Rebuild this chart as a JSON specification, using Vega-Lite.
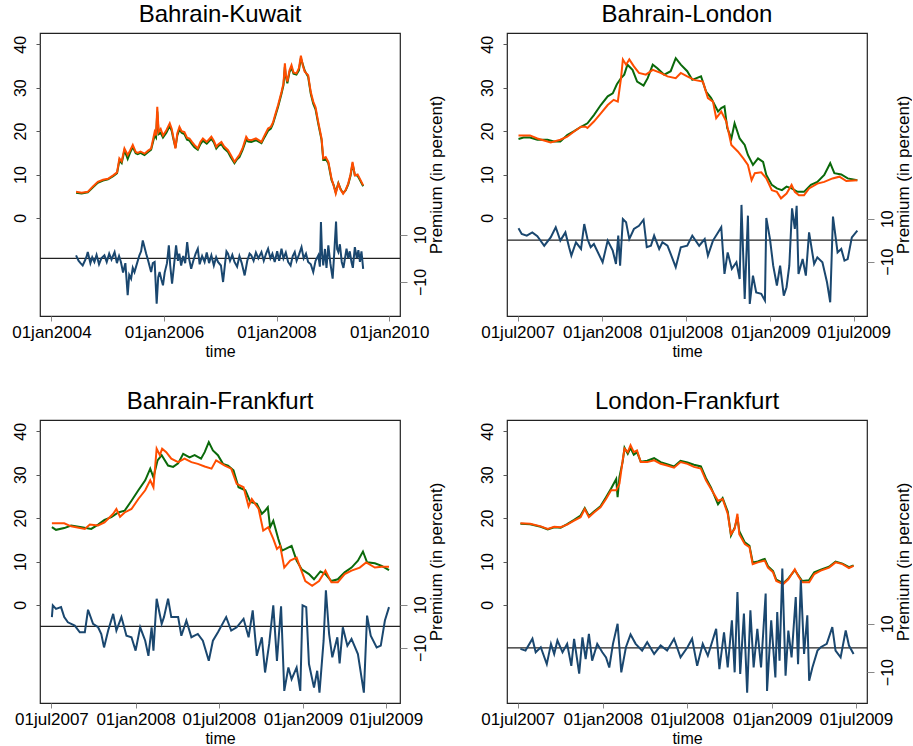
{
  "$schema": "https://vega.github.io/schema/vega-lite/v6.json",
  "background": "white",
  "padding": {"left": 11, "top": 2, "right": 0, "bottom": 0},
  "config": {
    "font": "Liberation Sans",
    "view": {"stroke": "#222", "strokeWidth": 1.2},
    "axis": {"grid": false, "domain": false, "labelFont": "Liberation Sans", "titleFont": "Liberation Sans", "labelFontSize": 16, "titleFontSize": 17, "titleFontWeight": "normal", "labelColor": "#000", "titleColor": "#000", "tickColor": "#555"},
    "axisX": {"tickSize": 5, "labelPadding": 3, "titlePadding": 3, "labelFontSize": 17, "titleFontSize": 16, "labelFlush": false, "labelOverlap": false, "labelBound": false, "tickColor": "#888"},
    "axisLeft": {"tickSize": 4, "labelPadding": 8},
    "axisRight": {"tickSize": 7, "labelPadding": 5, "titlePadding": 0, "tickColor": "#888", "labelBaseline": "top", "labelAlign": "center", "titleBaseline": "top"},
    "title": {"fontSize": 24, "fontWeight": "normal", "font": "Liberation Sans", "frame": "group", "offset": 6, "color": "#000", "anchor": "middle"}
  },
  "datasets": {
    "bk_g": [
      {"d":"2004-06-09","v":5.8},{"d":"2004-07-15","v":5.6},{"d":"2004-08-24","v":5.9},{"d":"2004-09-25","v":7.0},{"d":"2004-10-28","v":8.1},{"d":"2004-12-01","v":8.6},{"d":"2005-01-02","v":8.9},{"d":"2005-02-05","v":9.6},{"d":"2005-03-02","v":10.3},{"d":"2005-03-17","v":13.2},{"d":"2005-04-01","v":12.6},{"d":"2005-04-19","v":15.6},{"d":"2005-05-10","v":13.6},{"d":"2005-05-25","v":15.0},{"d":"2005-06-12","v":16.3},{"d":"2005-07-01","v":14.9},{"d":"2005-07-14","v":14.7},{"d":"2005-08-01","v":15.0},{"d":"2005-08-27","v":14.5},{"d":"2005-09-20","v":15.2},{"d":"2005-10-09","v":15.7},{"d":"2005-11-01","v":19.0},{"d":"2005-11-10","v":18.5},{"d":"2005-11-18","v":24.5},{"d":"2005-11-27","v":19.3},{"d":"2005-12-10","v":19.6},{"d":"2005-12-25","v":18.5},{"d":"2006-01-16","v":19.6},{"d":"2006-02-07","v":21.2},{"d":"2006-02-20","v":20.0},{"d":"2006-02-28","v":18.6},{"d":"2006-03-16","v":16.2},{"d":"2006-03-28","v":19.0},{"d":"2006-04-11","v":20.4},{"d":"2006-04-25","v":19.6},{"d":"2006-05-13","v":19.3},{"d":"2006-05-30","v":18.0},{"d":"2006-06-15","v":17.8},{"d":"2006-07-01","v":17.0},{"d":"2006-07-17","v":16.3},{"d":"2006-08-08","v":15.7},{"d":"2006-08-25","v":17.0},{"d":"2006-09-10","v":17.8},{"d":"2006-10-05","v":17.1},{"d":"2006-11-04","v":18.2},{"d":"2006-11-20","v":17.4},{"d":"2006-12-06","v":16.0},{"d":"2006-12-20","v":16.6},{"d":"2007-01-08","v":17.0},{"d":"2007-01-25","v":16.0},{"d":"2007-02-20","v":15.2},{"d":"2007-03-10","v":14.0},{"d":"2007-04-03","v":12.6},{"d":"2007-04-20","v":13.5},{"d":"2007-05-05","v":14.0},{"d":"2007-05-25","v":15.6},{"d":"2007-06-18","v":18.0},{"d":"2007-07-01","v":17.6},{"d":"2007-07-21","v":17.5},{"d":"2007-08-20","v":17.9},{"d":"2007-09-25","v":17.2},{"d":"2007-10-15","v":18.6},{"d":"2007-11-07","v":20.1},{"d":"2007-11-25","v":20.6},{"d":"2007-12-09","v":21.7},{"d":"2007-12-25","v":23.6},{"d":"2008-01-11","v":25.6},{"d":"2008-02-02","v":28.6},{"d":"2008-02-15","v":30.6},{"d":"2008-02-24","v":34.8},{"d":"2008-03-01","v":32.6},{"d":"2008-03-11","v":31.0},{"d":"2008-03-25","v":33.6},{"d":"2008-04-07","v":34.6},{"d":"2008-04-20","v":33.2},{"d":"2008-05-09","v":33.0},{"d":"2008-05-25","v":34.0},{"d":"2008-06-07","v":36.8},{"d":"2008-06-20","v":35.3},{"d":"2008-07-02","v":33.9},{"d":"2008-07-24","v":32.5},{"d":"2008-08-10","v":28.6},{"d":"2008-08-26","v":26.3},{"d":"2008-09-10","v":25.0},{"d":"2008-09-28","v":21.6},{"d":"2008-10-19","v":18.0},{"d":"2008-10-30","v":13.4},{"d":"2008-11-15","v":13.6},{"d":"2008-12-02","v":12.6},{"d":"2008-12-23","v":8.7},{"d":"2009-01-05","v":7.6},{"d":"2009-01-19","v":5.9},{"d":"2009-02-05","v":8.0},{"d":"2009-02-20","v":6.6},{"d":"2009-03-08","v":5.7},{"d":"2009-03-25","v":6.4},{"d":"2009-04-10","v":7.7},{"d":"2009-04-25","v":9.7},{"d":"2009-05-08","v":12.5},{"d":"2009-05-23","v":9.9},{"d":"2009-06-10","v":9.7},{"d":"2009-06-25","v":8.7},{"d":"2009-07-16","v":7.3}
    ],
    "bk_o": [
      {"d":"2004-06-09","v":6.0},{"d":"2004-07-15","v":5.8},{"d":"2004-08-24","v":6.0},{"d":"2004-09-25","v":7.2},{"d":"2004-10-28","v":8.3},{"d":"2004-12-01","v":8.8},{"d":"2005-01-02","v":9.0},{"d":"2005-02-05","v":9.8},{"d":"2005-03-02","v":10.5},{"d":"2005-03-17","v":13.7},{"d":"2005-04-01","v":13.0},{"d":"2005-04-19","v":16.0},{"d":"2005-05-10","v":14.5},{"d":"2005-05-25","v":15.5},{"d":"2005-06-12","v":16.8},{"d":"2005-07-01","v":15.2},{"d":"2005-07-14","v":15.0},{"d":"2005-08-01","v":15.3},{"d":"2005-08-27","v":14.8},{"d":"2005-09-20","v":15.5},{"d":"2005-10-09","v":16.0},{"d":"2005-11-01","v":19.8},{"d":"2005-11-10","v":19.0},{"d":"2005-11-18","v":25.6},{"d":"2005-11-27","v":19.8},{"d":"2005-12-10","v":20.5},{"d":"2005-12-25","v":19.0},{"d":"2006-01-16","v":20.2},{"d":"2006-02-07","v":21.8},{"d":"2006-02-20","v":20.5},{"d":"2006-02-28","v":19.0},{"d":"2006-03-16","v":16.0},{"d":"2006-03-28","v":19.5},{"d":"2006-04-11","v":21.0},{"d":"2006-04-25","v":20.0},{"d":"2006-05-13","v":19.8},{"d":"2006-05-30","v":18.5},{"d":"2006-06-15","v":18.3},{"d":"2006-07-01","v":17.5},{"d":"2006-07-17","v":16.8},{"d":"2006-08-08","v":16.0},{"d":"2006-08-25","v":17.5},{"d":"2006-09-10","v":18.3},{"d":"2006-10-05","v":17.5},{"d":"2006-11-04","v":18.7},{"d":"2006-11-20","v":17.8},{"d":"2006-12-06","v":16.4},{"d":"2006-12-20","v":17.0},{"d":"2007-01-08","v":17.5},{"d":"2007-01-25","v":16.5},{"d":"2007-02-20","v":15.6},{"d":"2007-03-10","v":14.5},{"d":"2007-04-03","v":12.9},{"d":"2007-04-20","v":13.8},{"d":"2007-05-05","v":14.5},{"d":"2007-05-25","v":16.0},{"d":"2007-06-18","v":18.7},{"d":"2007-07-01","v":18.0},{"d":"2007-07-21","v":17.9},{"d":"2007-08-20","v":18.3},{"d":"2007-09-25","v":17.5},{"d":"2007-10-15","v":19.0},{"d":"2007-11-07","v":20.6},{"d":"2007-11-25","v":21.0},{"d":"2007-12-09","v":22.0},{"d":"2007-12-25","v":24.0},{"d":"2008-01-11","v":26.0},{"d":"2008-02-02","v":29.0},{"d":"2008-02-15","v":31.0},{"d":"2008-02-24","v":35.6},{"d":"2008-03-01","v":33.0},{"d":"2008-03-11","v":31.4},{"d":"2008-03-25","v":34.0},{"d":"2008-04-07","v":35.2},{"d":"2008-04-20","v":33.5},{"d":"2008-05-09","v":33.3},{"d":"2008-05-25","v":34.5},{"d":"2008-06-07","v":37.4},{"d":"2008-06-20","v":35.0},{"d":"2008-07-02","v":33.7},{"d":"2008-07-24","v":32.9},{"d":"2008-08-10","v":29.0},{"d":"2008-08-26","v":26.8},{"d":"2008-09-10","v":25.5},{"d":"2008-09-28","v":22.0},{"d":"2008-10-19","v":18.3},{"d":"2008-10-30","v":13.7},{"d":"2008-11-15","v":14.0},{"d":"2008-12-02","v":12.9},{"d":"2008-12-23","v":9.0},{"d":"2009-01-05","v":7.5},{"d":"2009-01-19","v":5.6},{"d":"2009-02-05","v":7.9},{"d":"2009-02-20","v":6.5},{"d":"2009-03-08","v":5.6},{"d":"2009-03-25","v":6.5},{"d":"2009-04-10","v":7.9},{"d":"2009-04-25","v":10.0},{"d":"2009-05-08","v":12.9},{"d":"2009-05-23","v":9.8},{"d":"2009-06-10","v":10.0},{"d":"2009-06-25","v":9.0},{"d":"2009-07-16","v":7.5}
    ],
    "bk_p": [
      {"d":"2004-06-09","v":1.3},{"d":"2004-06-25","v":-1.0},{"d":"2004-07-08","v":-2.0},{"d":"2004-07-22","v":-3.0},{"d":"2004-08-05","v":-1.0},{"d":"2004-08-15","v":0.5},{"d":"2004-08-24","v":2.7},{"d":"2004-09-10","v":-2.0},{"d":"2004-09-22","v":0.5},{"d":"2004-10-06","v":-1.5},{"d":"2004-10-20","v":1.5},{"d":"2004-11-05","v":-2.5},{"d":"2004-11-20","v":0.0},{"d":"2004-12-10","v":1.3},{"d":"2004-12-25","v":-1.5},{"d":"2005-01-10","v":2.0},{"d":"2005-01-25","v":-0.5},{"d":"2005-02-14","v":2.7},{"d":"2005-03-01","v":-2.0},{"d":"2005-03-15","v":1.0},{"d":"2005-03-27","v":-1.5},{"d":"2005-04-10","v":-6.0},{"d":"2005-04-25","v":-2.0},{"d":"2005-05-10","v":-15.6},{"d":"2005-05-20","v":-7.0},{"d":"2005-06-01","v":-8.6},{"d":"2005-06-12","v":-4.0},{"d":"2005-06-23","v":-5.8},{"d":"2005-07-10","v":-2.0},{"d":"2005-07-25","v":1.3},{"d":"2005-08-05","v":3.0},{"d":"2005-08-16","v":7.6},{"d":"2005-09-07","v":2.0},{"d":"2005-09-20","v":-1.0},{"d":"2005-10-09","v":-5.8},{"d":"2005-10-20","v":-2.0},{"d":"2005-11-01","v":-1.5},{"d":"2005-11-14","v":-19.2},{"d":"2005-11-24","v":-8.0},{"d":"2005-12-03","v":-5.8},{"d":"2005-12-15","v":-9.0},{"d":"2005-12-25","v":-11.4},{"d":"2006-01-05","v":-6.0},{"d":"2006-01-20","v":-2.0},{"d":"2006-02-01","v":5.5},{"d":"2006-02-10","v":-3.0},{"d":"2006-02-22","v":-10.7},{"d":"2006-03-05","v":-4.0},{"d":"2006-03-20","v":5.5},{"d":"2006-04-01","v":-1.0},{"d":"2006-04-10","v":2.0},{"d":"2006-04-22","v":-3.0},{"d":"2006-05-05","v":1.0},{"d":"2006-05-18","v":-2.0},{"d":"2006-05-31","v":6.9},{"d":"2006-06-12","v":0.0},{"d":"2006-06-26","v":-4.4},{"d":"2006-07-10","v":-1.0},{"d":"2006-07-25","v":2.0},{"d":"2006-08-08","v":4.1},{"d":"2006-08-20","v":-2.5},{"d":"2006-09-05","v":1.0},{"d":"2006-09-21","v":-1.5},{"d":"2006-10-05","v":2.5},{"d":"2006-10-20","v":-2.0},{"d":"2006-11-04","v":1.3},{"d":"2006-11-20","v":-3.0},{"d":"2006-12-05","v":0.5},{"d":"2006-12-17","v":-1.5},{"d":"2007-01-05","v":-3.0},{"d":"2007-01-19","v":-10.0},{"d":"2007-02-01","v":-2.0},{"d":"2007-02-10","v":3.0},{"d":"2007-02-20","v":2.0},{"d":"2007-03-05","v":-1.0},{"d":"2007-03-20","v":1.5},{"d":"2007-04-03","v":-1.5},{"d":"2007-04-20","v":-3.5},{"d":"2007-05-05","v":1.0},{"d":"2007-05-20","v":-2.0},{"d":"2007-06-08","v":-7.2},{"d":"2007-06-25","v":-1.0},{"d":"2007-07-10","v":2.0},{"d":"2007-07-21","v":1.3},{"d":"2007-08-05","v":-1.0},{"d":"2007-08-20","v":2.5},{"d":"2007-09-05","v":0.0},{"d":"2007-09-25","v":2.7},{"d":"2007-10-10","v":-1.0},{"d":"2007-10-25","v":2.0},{"d":"2007-11-07","v":4.1},{"d":"2007-11-22","v":0.0},{"d":"2007-12-05","v":2.0},{"d":"2007-12-20","v":-1.5},{"d":"2008-01-05","v":3.0},{"d":"2008-01-18","v":-1.0},{"d":"2008-02-02","v":4.1},{"d":"2008-02-15","v":0.0},{"d":"2008-03-01","v":2.5},{"d":"2008-03-16","v":-1.5},{"d":"2008-04-01","v":-3.0},{"d":"2008-04-15","v":1.0},{"d":"2008-04-28","v":2.7},{"d":"2008-05-10","v":-1.0},{"d":"2008-05-25","v":1.5},{"d":"2008-06-11","v":4.8},{"d":"2008-06-25","v":0.0},{"d":"2008-07-10","v":2.0},{"d":"2008-07-24","v":-1.5},{"d":"2008-08-10","v":-2.5},{"d":"2008-08-26","v":-5.8},{"d":"2008-09-10","v":-1.0},{"d":"2008-09-28","v":1.3},{"d":"2008-10-08","v":-3.5},{"d":"2008-10-15","v":15.4},{"d":"2008-10-22","v":2.0},{"d":"2008-10-30","v":-3.0},{"d":"2008-11-10","v":4.0},{"d":"2008-11-20","v":-4.0},{"d":"2008-12-02","v":5.5},{"d":"2008-12-15","v":-2.0},{"d":"2008-12-30","v":-8.6},{"d":"2009-01-10","v":3.0},{"d":"2009-01-21","v":15.6},{"d":"2009-01-28","v":4.0},{"d":"2009-02-05","v":2.7},{"d":"2009-02-15","v":6.0},{"d":"2009-02-27","v":-1.5},{"d":"2009-03-10","v":-4.0},{"d":"2009-03-30","v":4.1},{"d":"2009-04-10","v":0.0},{"d":"2009-04-20","v":3.0},{"d":"2009-05-01","v":-1.5},{"d":"2009-05-10","v":-4.0},{"d":"2009-05-23","v":4.8},{"d":"2009-06-05","v":0.0},{"d":"2009-06-15","v":3.5},{"d":"2009-06-25","v":-1.5},{"d":"2009-07-05","v":3.0},{"d":"2009-07-16","v":-4.4}
    ],
    "bl_g": [
      {"d":"2007-07-03","v":18.2},{"d":"2007-07-14","v":18.5},{"d":"2007-07-28","v":18.5},{"d":"2007-08-13","v":18.0},{"d":"2007-09-04","v":18.0},{"d":"2007-09-18","v":17.6},{"d":"2007-10-02","v":17.6},{"d":"2007-10-17","v":19.1},{"d":"2007-11-01","v":20.0},{"d":"2007-11-16","v":21.0},{"d":"2007-11-30","v":21.8},{"d":"2007-12-14","v":23.7},{"d":"2007-12-29","v":26.0},{"d":"2008-01-13","v":28.0},{"d":"2008-01-24","v":28.7},{"d":"2008-02-02","v":30.8},{"d":"2008-02-11","v":32.2},{"d":"2008-02-18","v":33.0},{"d":"2008-02-25","v":35.3},{"d":"2008-03-07","v":34.1},{"d":"2008-03-17","v":31.4},{"d":"2008-03-31","v":30.5},{"d":"2008-04-09","v":32.2},{"d":"2008-04-20","v":35.3},{"d":"2008-04-30","v":34.5},{"d":"2008-05-15","v":33.0},{"d":"2008-05-29","v":33.8},{"d":"2008-06-09","v":36.8},{"d":"2008-06-20","v":35.3},{"d":"2008-07-04","v":33.8},{"d":"2008-07-15","v":31.8},{"d":"2008-08-03","v":32.6},{"d":"2008-08-14","v":29.1},{"d":"2008-08-25","v":27.6},{"d":"2008-09-09","v":24.5},{"d":"2008-09-16","v":25.3},{"d":"2008-09-23","v":25.7},{"d":"2008-09-29","v":20.7},{"d":"2008-10-08","v":18.3},{"d":"2008-10-15","v":21.8},{"d":"2008-10-26","v":18.3},{"d":"2008-11-06","v":16.8},{"d":"2008-11-13","v":14.5},{"d":"2008-11-24","v":12.2},{"d":"2008-12-05","v":13.7},{"d":"2008-12-16","v":12.9},{"d":"2008-12-23","v":9.9},{"d":"2009-01-04","v":7.6},{"d":"2009-01-15","v":6.8},{"d":"2009-01-26","v":6.4},{"d":"2009-02-05","v":7.2},{"d":"2009-02-16","v":6.8},{"d":"2009-03-01","v":6.0},{"d":"2009-03-15","v":6.0},{"d":"2009-03-30","v":7.6},{"d":"2009-04-13","v":8.3},{"d":"2009-04-28","v":9.9},{"d":"2009-05-11","v":12.6},{"d":"2009-05-20","v":10.3},{"d":"2009-06-04","v":10.0},{"d":"2009-06-18","v":9.1},{"d":"2009-07-09","v":8.7}
    ],
    "bl_o": [
      {"d":"2007-07-03","v":19.0},{"d":"2007-07-28","v":19.0},{"d":"2007-08-13","v":18.3},{"d":"2007-09-11","v":17.4},{"d":"2007-10-02","v":18.0},{"d":"2007-10-17","v":18.7},{"d":"2007-11-01","v":19.9},{"d":"2007-11-16","v":21.0},{"d":"2007-11-26","v":21.0},{"d":"2007-11-30","v":20.7},{"d":"2007-12-14","v":22.2},{"d":"2007-12-29","v":24.1},{"d":"2008-01-13","v":26.0},{"d":"2008-01-26","v":27.2},{"d":"2008-02-04","v":26.8},{"d":"2008-02-11","v":32.2},{"d":"2008-02-15","v":36.5},{"d":"2008-02-22","v":35.3},{"d":"2008-02-29","v":36.5},{"d":"2008-03-10","v":34.9},{"d":"2008-03-21","v":33.4},{"d":"2008-04-05","v":33.0},{"d":"2008-04-20","v":34.1},{"d":"2008-05-07","v":33.4},{"d":"2008-05-22","v":32.6},{"d":"2008-06-09","v":32.2},{"d":"2008-06-20","v":33.4},{"d":"2008-07-04","v":32.6},{"d":"2008-07-19","v":31.8},{"d":"2008-08-07","v":31.4},{"d":"2008-08-18","v":27.6},{"d":"2008-08-29","v":26.8},{"d":"2008-09-05","v":23.0},{"d":"2008-09-16","v":24.5},{"d":"2008-09-27","v":22.2},{"d":"2008-10-08","v":16.8},{"d":"2008-10-22","v":15.3},{"d":"2008-11-03","v":13.7},{"d":"2008-11-13","v":12.2},{"d":"2008-11-21","v":8.7},{"d":"2008-11-28","v":10.3},{"d":"2008-12-12","v":10.5},{"d":"2008-12-23","v":9.1},{"d":"2009-01-04","v":6.4},{"d":"2009-01-15","v":6.0},{"d":"2009-01-24","v":4.5},{"d":"2009-02-05","v":5.6},{"d":"2009-02-16","v":7.6},{"d":"2009-02-23","v":6.0},{"d":"2009-03-04","v":5.2},{"d":"2009-03-15","v":5.2},{"d":"2009-03-26","v":6.8},{"d":"2009-04-13","v":7.9},{"d":"2009-04-28","v":8.3},{"d":"2009-05-16","v":9.1},{"d":"2009-05-31","v":9.5},{"d":"2009-06-15","v":8.5},{"d":"2009-07-09","v":8.7}
    ],
    "bl_p": [
      {"d":"2007-07-03","v":5.5},{"d":"2007-07-10","v":2.9},{"d":"2007-07-21","v":2.1},{"d":"2007-08-02","v":3.6},{"d":"2007-08-13","v":1.8},{"d":"2007-08-28","v":-2.6},{"d":"2007-09-11","v":1.3},{"d":"2007-09-22","v":6.0},{"d":"2007-10-02","v":-0.2},{"d":"2007-10-13","v":3.6},{"d":"2007-10-21","v":-3.3},{"d":"2007-10-26","v":-7.2},{"d":"2007-11-05","v":-1.0},{"d":"2007-11-16","v":-4.1},{"d":"2007-11-23","v":7.5},{"d":"2007-11-30","v":0.5},{"d":"2007-12-07","v":-3.3},{"d":"2007-12-14","v":-1.8},{"d":"2008-01-02","v":-10.3},{"d":"2008-01-13","v":-0.2},{"d":"2008-01-24","v":-4.9},{"d":"2008-01-31","v":-11.1},{"d":"2008-02-05","v":2.1},{"d":"2008-02-09","v":-11.9},{"d":"2008-02-15","v":9.8},{"d":"2008-02-22","v":8.3},{"d":"2008-02-29","v":0.5},{"d":"2008-03-10","v":5.2},{"d":"2008-03-21","v":6.7},{"d":"2008-03-31","v":9.5},{"d":"2008-04-07","v":-3.3},{"d":"2008-04-16","v":-2.6},{"d":"2008-04-23","v":2.1},{"d":"2008-05-04","v":-4.1},{"d":"2008-05-11","v":-1.0},{"d":"2008-05-22","v":-2.6},{"d":"2008-05-29","v":-6.4},{"d":"2008-06-09","v":-12.6},{"d":"2008-06-20","v":-3.3},{"d":"2008-07-04","v":-2.6},{"d":"2008-07-15","v":2.1},{"d":"2008-07-30","v":-2.6},{"d":"2008-08-11","v":0.5},{"d":"2008-08-18","v":-7.2},{"d":"2008-08-29","v":-0.2},{"d":"2008-09-09","v":3.6},{"d":"2008-09-16","v":6.0},{"d":"2008-09-23","v":-15.7},{"d":"2008-09-30","v":-5.7},{"d":"2008-10-09","v":-13.4},{"d":"2008-10-19","v":-10.3},{"d":"2008-10-26","v":-18.1},{"d":"2008-10-30","v":16.4},{"d":"2008-11-06","v":-27.4},{"d":"2008-11-13","v":11.4},{"d":"2008-11-17","v":-29.7},{"d":"2008-11-24","v":-16.5},{"d":"2008-12-01","v":-24.3},{"d":"2008-12-12","v":-25.0},{"d":"2008-12-20","v":-28.1},{"d":"2008-12-23","v":10.3},{"d":"2008-12-31","v":0.5},{"d":"2009-01-07","v":-11.9},{"d":"2009-01-15","v":-21.1},{"d":"2009-01-22","v":-11.9},{"d":"2009-01-30","v":-25.8},{"d":"2009-02-05","v":-21.9},{"d":"2009-02-11","v":-11.9},{"d":"2009-02-17","v":14.8},{"d":"2009-02-23","v":5.2},{"d":"2009-02-27","v":16.0},{"d":"2009-03-03","v":-15.7},{"d":"2009-03-12","v":-8.8},{"d":"2009-03-19","v":-16.5},{"d":"2009-03-26","v":3.6},{"d":"2009-04-06","v":-11.1},{"d":"2009-04-13","v":-8.0},{"d":"2009-04-24","v":-10.3},{"d":"2009-05-04","v":-19.6},{"d":"2009-05-11","v":-28.9},{"d":"2009-05-17","v":11.0},{"d":"2009-05-27","v":-5.7},{"d":"2009-06-04","v":-4.1},{"d":"2009-06-11","v":-9.5},{"d":"2009-06-18","v":-8.8},{"d":"2009-06-27","v":1.3},{"d":"2009-07-09","v":4.4}
    ],
    "bf_g": [
      {"d":"2007-07-02","v":17.9},{"d":"2007-07-11","v":17.3},{"d":"2007-07-29","v":17.7},{"d":"2007-08-13","v":18.3},{"d":"2007-09-05","v":17.9},{"d":"2007-09-26","v":17.5},{"d":"2007-10-11","v":18.5},{"d":"2007-10-25","v":19.6},{"d":"2007-11-09","v":20.2},{"d":"2007-11-24","v":21.3},{"d":"2007-12-08","v":21.7},{"d":"2007-12-23","v":24.0},{"d":"2008-01-07","v":26.4},{"d":"2008-01-22","v":28.7},{"d":"2008-02-02","v":31.4},{"d":"2008-02-09","v":29.4},{"d":"2008-02-18","v":33.3},{"d":"2008-02-27","v":34.5},{"d":"2008-03-12","v":32.1},{"d":"2008-03-23","v":31.8},{"d":"2008-04-03","v":32.6},{"d":"2008-04-14","v":34.8},{"d":"2008-04-28","v":34.0},{"d":"2008-05-09","v":34.5},{"d":"2008-05-23","v":33.7},{"d":"2008-05-31","v":35.2},{"d":"2008-06-09","v":37.5},{"d":"2008-06-18","v":35.6},{"d":"2008-06-29","v":34.5},{"d":"2008-07-10","v":32.5},{"d":"2008-07-21","v":32.1},{"d":"2008-08-02","v":31.0},{"d":"2008-08-13","v":27.1},{"d":"2008-08-28","v":26.4},{"d":"2008-09-08","v":23.7},{"d":"2008-09-22","v":23.3},{"d":"2008-10-03","v":21.0},{"d":"2008-10-10","v":21.7},{"d":"2008-10-16","v":22.5},{"d":"2008-10-21","v":17.9},{"d":"2008-10-28","v":19.4},{"d":"2008-11-08","v":15.2},{"d":"2008-11-16","v":12.5},{"d":"2008-11-24","v":12.9},{"d":"2008-12-07","v":13.6},{"d":"2008-12-18","v":10.2},{"d":"2008-12-29","v":8.2},{"d":"2009-01-14","v":7.1},{"d":"2009-01-25","v":5.9},{"d":"2009-02-08","v":7.7},{"d":"2009-02-19","v":7.1},{"d":"2009-03-04","v":5.5},{"d":"2009-03-18","v":5.9},{"d":"2009-04-02","v":7.5},{"d":"2009-04-17","v":8.6},{"d":"2009-05-01","v":10.2},{"d":"2009-05-12","v":12.3},{"d":"2009-05-21","v":9.8},{"d":"2009-06-07","v":9.6},{"d":"2009-06-22","v":9.0},{"d":"2009-07-08","v":8.0}
    ],
    "bf_o": [
      {"d":"2007-07-02","v":18.8},{"d":"2007-07-29","v":18.8},{"d":"2007-08-13","v":18.1},{"d":"2007-09-12","v":17.5},{"d":"2007-09-23","v":18.5},{"d":"2007-10-11","v":18.3},{"d":"2007-10-25","v":19.0},{"d":"2007-11-13","v":21.0},{"d":"2007-11-20","v":22.1},{"d":"2007-11-28","v":20.3},{"d":"2007-12-08","v":21.3},{"d":"2007-12-23","v":22.1},{"d":"2008-01-07","v":24.4},{"d":"2008-01-22","v":26.4},{"d":"2008-02-02","v":28.7},{"d":"2008-02-09","v":27.1},{"d":"2008-02-16","v":36.0},{"d":"2008-02-23","v":34.5},{"d":"2008-02-28","v":36.0},{"d":"2008-03-08","v":35.2},{"d":"2008-03-19","v":33.7},{"d":"2008-04-03","v":32.9},{"d":"2008-04-17","v":33.7},{"d":"2008-05-02","v":32.9},{"d":"2008-05-16","v":32.5},{"d":"2008-05-31","v":31.9},{"d":"2008-06-15","v":31.4},{"d":"2008-06-25","v":33.3},{"d":"2008-07-14","v":32.1},{"d":"2008-07-28","v":31.4},{"d":"2008-08-09","v":27.9},{"d":"2008-08-24","v":27.1},{"d":"2008-09-04","v":22.7},{"d":"2008-09-11","v":24.4},{"d":"2008-09-26","v":22.1},{"d":"2008-10-06","v":17.1},{"d":"2008-10-17","v":17.9},{"d":"2008-10-28","v":15.2},{"d":"2008-11-05","v":12.9},{"d":"2008-11-12","v":13.6},{"d":"2008-11-21","v":8.6},{"d":"2008-12-04","v":10.2},{"d":"2008-12-18","v":10.9},{"d":"2008-12-26","v":8.6},{"d":"2009-01-06","v":5.5},{"d":"2009-01-21","v":4.4},{"d":"2009-02-05","v":5.5},{"d":"2009-02-19","v":7.9},{"d":"2009-03-04","v":5.2},{"d":"2009-03-18","v":5.2},{"d":"2009-04-02","v":7.1},{"d":"2009-04-17","v":7.9},{"d":"2009-05-05","v":8.6},{"d":"2009-05-19","v":9.8},{"d":"2009-06-07","v":8.6},{"d":"2009-06-22","v":8.8},{"d":"2009-07-08","v":8.8}
    ],
    "bf_p": [
      {"d":"2007-07-02","v":4.3},{"d":"2007-07-04","v":9.7},{"d":"2007-07-11","v":8.1},{"d":"2007-07-22","v":8.9},{"d":"2007-07-29","v":4.3},{"d":"2007-08-06","v":1.9},{"d":"2007-08-21","v":0.4},{"d":"2007-09-01","v":-2.7},{"d":"2007-09-12","v":-2.7},{"d":"2007-09-19","v":7.7},{"d":"2007-09-30","v":1.2},{"d":"2007-10-11","v":-0.4},{"d":"2007-10-18","v":-3.5},{"d":"2007-10-24","v":-9.7},{"d":"2007-11-02","v":-1.9},{"d":"2007-11-13","v":5.8},{"d":"2007-11-20","v":-1.9},{"d":"2007-12-01","v":4.3},{"d":"2007-12-12","v":-4.3},{"d":"2007-12-23","v":-5.0},{"d":"2008-01-01","v":-11.2},{"d":"2008-01-11","v":-0.4},{"d":"2008-01-22","v":-6.6},{"d":"2008-01-29","v":-13.6},{"d":"2008-02-05","v":-0.4},{"d":"2008-02-09","v":-11.2},{"d":"2008-02-16","v":12.8},{"d":"2008-02-27","v":1.2},{"d":"2008-03-03","v":4.3},{"d":"2008-03-12","v":12.8},{"d":"2008-03-19","v":4.3},{"d":"2008-04-03","v":4.3},{"d":"2008-04-10","v":-4.3},{"d":"2008-04-21","v":2.7},{"d":"2008-05-02","v":-5.0},{"d":"2008-05-16","v":-3.5},{"d":"2008-05-27","v":-6.6},{"d":"2008-06-09","v":-15.9},{"d":"2008-06-18","v":-6.6},{"d":"2008-06-29","v":-2.7},{"d":"2008-07-17","v":4.3},{"d":"2008-07-28","v":-1.9},{"d":"2008-08-09","v":-0.4},{"d":"2008-08-24","v":3.5},{"d":"2008-09-04","v":-5.0},{"d":"2008-09-13","v":7.4},{"d":"2008-09-22","v":-13.6},{"d":"2008-10-03","v":-5.0},{"d":"2008-10-10","v":-21.3},{"d":"2008-10-19","v":-8.1},{"d":"2008-10-28","v":9.7},{"d":"2008-11-05","v":-15.9},{"d":"2008-11-14","v":9.3},{"d":"2008-11-21","v":-29.8},{"d":"2008-11-30","v":-19.0},{"d":"2008-12-07","v":-24.4},{"d":"2008-12-18","v":-19.0},{"d":"2008-12-26","v":-29.8},{"d":"2008-12-31","v":9.7},{"d":"2009-01-08","v":8.9},{"d":"2009-01-14","v":-17.4},{"d":"2009-01-25","v":-28.3},{"d":"2009-02-01","v":-20.5},{"d":"2009-02-06","v":-30.6},{"d":"2009-02-15","v":-6.6},{"d":"2009-02-20","v":16.7},{"d":"2009-02-27","v":-3.5},{"d":"2009-03-06","v":-14.3},{"d":"2009-03-17","v":-5.0},{"d":"2009-03-22","v":-17.1},{"d":"2009-03-29","v":-0.4},{"d":"2009-04-08","v":-8.9},{"d":"2009-04-17","v":-5.8},{"d":"2009-05-01","v":-12.8},{"d":"2009-05-14","v":-30.6},{"d":"2009-05-21","v":5.0},{"d":"2009-05-29","v":-4.3},{"d":"2009-06-11","v":-9.7},{"d":"2009-06-20","v":-8.9},{"d":"2009-06-29","v":2.7},{"d":"2009-07-08","v":8.9}
    ],
    "lf_g": [
      {"d":"2007-07-07","v":18.7},{"d":"2007-07-28","v":18.6},{"d":"2007-08-20","v":18.0},{"d":"2007-09-04","v":17.4},{"d":"2007-09-18","v":17.9},{"d":"2007-10-02","v":17.8},{"d":"2007-10-16","v":18.6},{"d":"2007-10-31","v":19.6},{"d":"2007-11-14","v":20.6},{"d":"2007-11-23","v":22.3},{"d":"2007-12-02","v":20.5},{"d":"2007-12-13","v":21.5},{"d":"2007-12-27","v":22.7},{"d":"2008-01-08","v":24.8},{"d":"2008-01-19","v":26.8},{"d":"2008-01-30","v":29.0},{"d":"2008-02-02","v":24.8},{"d":"2008-02-06","v":29.5},{"d":"2008-02-13","v":33.0},{"d":"2008-02-17","v":36.2},{"d":"2008-02-24","v":34.8},{"d":"2008-03-01","v":36.2},{"d":"2008-03-08","v":34.6},{"d":"2008-03-15","v":35.2},{"d":"2008-03-23","v":33.0},{"d":"2008-04-06","v":33.2},{"d":"2008-04-21","v":33.8},{"d":"2008-05-05","v":32.9},{"d":"2008-05-19","v":32.4},{"d":"2008-06-03","v":31.9},{"d":"2008-06-17","v":33.2},{"d":"2008-07-02","v":32.8},{"d":"2008-07-16","v":32.3},{"d":"2008-07-31","v":31.9},{"d":"2008-08-11","v":29.2},{"d":"2008-08-22","v":27.0},{"d":"2008-09-06","v":23.2},{"d":"2008-09-16","v":24.6},{"d":"2008-09-27","v":21.5},{"d":"2008-10-04","v":16.0},{"d":"2008-10-12","v":17.8},{"d":"2008-10-18","v":20.2},{"d":"2008-10-22","v":17.0},{"d":"2008-11-03","v":14.4},{"d":"2008-11-13","v":13.6},{"d":"2008-11-20","v":9.8},{"d":"2008-12-01","v":10.0},{"d":"2008-12-16","v":10.6},{"d":"2008-12-23","v":8.9},{"d":"2009-01-03","v":7.8},{"d":"2009-01-10","v":5.8},{"d":"2009-01-25","v":5.0},{"d":"2009-02-05","v":6.1},{"d":"2009-02-19","v":8.0},{"d":"2009-02-26","v":6.9},{"d":"2009-03-07","v":5.5},{"d":"2009-03-22","v":5.7},{"d":"2009-04-02","v":7.5},{"d":"2009-04-16","v":8.1},{"d":"2009-05-04","v":8.8},{"d":"2009-05-18","v":10.0},{"d":"2009-06-02","v":9.5},{"d":"2009-06-16","v":8.7},{"d":"2009-06-26","v":9.1}
    ],
    "lf_o": [
      {"d":"2007-07-07","v":18.8},{"d":"2007-07-28","v":18.7},{"d":"2007-08-20","v":18.1},{"d":"2007-09-04","v":17.5},{"d":"2007-09-18","v":18.0},{"d":"2007-10-02","v":17.9},{"d":"2007-10-16","v":18.5},{"d":"2007-10-31","v":19.4},{"d":"2007-11-14","v":20.2},{"d":"2007-11-23","v":22.1},{"d":"2007-12-02","v":20.2},{"d":"2007-12-13","v":21.3},{"d":"2007-12-27","v":22.5},{"d":"2008-01-08","v":24.4},{"d":"2008-01-19","v":26.4},{"d":"2008-01-30","v":26.4},{"d":"2008-02-06","v":27.9},{"d":"2008-02-13","v":33.3},{"d":"2008-02-17","v":36.0},{"d":"2008-02-24","v":35.2},{"d":"2008-03-01","v":36.8},{"d":"2008-03-08","v":35.2},{"d":"2008-03-15","v":35.6},{"d":"2008-03-23","v":32.9},{"d":"2008-04-06","v":32.9},{"d":"2008-04-21","v":33.3},{"d":"2008-05-05","v":32.5},{"d":"2008-05-19","v":32.1},{"d":"2008-06-03","v":31.6},{"d":"2008-06-17","v":32.9},{"d":"2008-07-02","v":32.5},{"d":"2008-07-16","v":31.8},{"d":"2008-07-31","v":31.4},{"d":"2008-08-11","v":28.7},{"d":"2008-08-22","v":26.7},{"d":"2008-09-06","v":24.0},{"d":"2008-09-16","v":24.4},{"d":"2008-09-27","v":21.0},{"d":"2008-10-04","v":16.3},{"d":"2008-10-12","v":17.5},{"d":"2008-10-18","v":21.0},{"d":"2008-10-22","v":16.3},{"d":"2008-11-03","v":14.0},{"d":"2008-11-13","v":13.3},{"d":"2008-11-20","v":9.4},{"d":"2008-12-01","v":9.8},{"d":"2008-12-16","v":10.2},{"d":"2008-12-23","v":8.6},{"d":"2009-01-03","v":7.5},{"d":"2009-01-10","v":5.5},{"d":"2009-01-25","v":4.8},{"d":"2009-02-05","v":5.9},{"d":"2009-02-19","v":8.2},{"d":"2009-02-26","v":6.7},{"d":"2009-03-07","v":5.2},{"d":"2009-03-22","v":5.2},{"d":"2009-04-02","v":7.1},{"d":"2009-04-16","v":7.9},{"d":"2009-05-04","v":8.6},{"d":"2009-05-18","v":9.8},{"d":"2009-06-02","v":9.4},{"d":"2009-06-16","v":8.5},{"d":"2009-06-26","v":9.0}
    ],
    "lf_p": [
      {"d":"2007-07-07","v":-0.4},{"d":"2007-07-18","v":-1.1},{"d":"2007-08-02","v":3.8},{"d":"2007-08-09","v":-1.8},{"d":"2007-08-20","v":0.3},{"d":"2007-09-02","v":-6.7},{"d":"2007-09-11","v":1.7},{"d":"2007-09-18","v":-2.5},{"d":"2007-09-25","v":3.1},{"d":"2007-10-06","v":-1.8},{"d":"2007-10-16","v":1.7},{"d":"2007-10-25","v":-7.4},{"d":"2007-10-31","v":3.8},{"d":"2007-11-11","v":-10.6},{"d":"2007-11-18","v":4.4},{"d":"2007-11-25","v":-4.6},{"d":"2007-12-02","v":5.8},{"d":"2007-12-09","v":-5.3},{"d":"2007-12-20","v":1.7},{"d":"2007-12-31","v":-1.8},{"d":"2008-01-08","v":-3.9},{"d":"2008-01-15","v":-8.1},{"d":"2008-01-23","v":1.7},{"d":"2008-02-02","v":10.0},{"d":"2008-02-10","v":-10.1},{"d":"2008-02-20","v":0.3},{"d":"2008-03-01","v":5.6},{"d":"2008-03-12","v":1.7},{"d":"2008-03-26","v":-1.1},{"d":"2008-04-06","v":2.4},{"d":"2008-04-21","v":-2.5},{"d":"2008-05-05","v":1.0},{"d":"2008-05-19","v":-1.1},{"d":"2008-06-03","v":3.8},{"d":"2008-06-17","v":-3.9},{"d":"2008-07-02","v":0.3},{"d":"2008-07-12","v":3.8},{"d":"2008-07-23","v":-7.4},{"d":"2008-08-04","v":1.7},{"d":"2008-08-15","v":-3.2},{"d":"2008-09-02","v":7.9},{"d":"2008-09-09","v":-8.8},{"d":"2008-09-19","v":6.5},{"d":"2008-09-27","v":-8.1},{"d":"2008-10-06","v":11.4},{"d":"2008-10-12","v":-10.1},{"d":"2008-10-18","v":23.2},{"d":"2008-10-24","v":-10.8},{"d":"2008-11-01","v":14.2},{"d":"2008-11-08","v":-18.5},{"d":"2008-11-15","v":15.6},{"d":"2008-11-22","v":-8.1},{"d":"2008-11-30","v":7.9},{"d":"2008-12-08","v":-8.1},{"d":"2008-12-18","v":22.5},{"d":"2008-12-21","v":-17.8},{"d":"2008-12-30","v":11.4},{"d":"2009-01-08","v":-12.2},{"d":"2009-01-12","v":14.9},{"d":"2009-01-17","v":-5.3},{"d":"2009-01-23","v":32.9},{"d":"2009-01-30","v":-11.5},{"d":"2009-02-05","v":7.2},{"d":"2009-02-12","v":-3.9},{"d":"2009-02-21","v":21.1},{"d":"2009-02-26","v":-6.7},{"d":"2009-03-04","v":28.1},{"d":"2009-03-11","v":-2.5},{"d":"2009-03-18","v":13.5},{"d":"2009-03-22","v":-13.6},{"d":"2009-03-29","v":-8.1},{"d":"2009-04-09","v":-1.1},{"d":"2009-04-16","v":0.3},{"d":"2009-04-29","v":1.7},{"d":"2009-05-11","v":8.6},{"d":"2009-05-18","v":-1.1},{"d":"2009-05-29","v":-3.9},{"d":"2009-06-09","v":7.2},{"d":"2009-06-16","v":1.0},{"d":"2009-06-26","v":-2.5}
    ]
  },
  "columns": 2,
  "spacing": {"row": 29, "column": 33},
  "concat": [
    {
      "title": "Bahrain-Kuwait",
      "width": 360, "height": 283,
      "layer": [
        {"layer": [
          {"data": {"name": "bk_g"}, "mark": {"type": "line", "color": "#0a690a", "strokeWidth": 2, "clip": true},
           "encoding": {
             "x": {"field": "d", "type": "temporal", "title": "time", "scale": {"type": "utc", "domain": [{"year": 2003, "month": 10, "date": 19, "utc": true}, {"year": 2010, "month": 3, "date": 12, "utc": true}]}, "axis": {"values": [{"year": 2004, "month": 1, "date": 1, "utc": true}, {"year": 2006, "month": 1, "date": 1, "utc": true}, {"year": 2008, "month": 1, "date": 1, "utc": true}, {"year": 2010, "month": 1, "date": 1, "utc": true}], "labelExpr": "lower(utcFormat(datum.value, '%d%b%Y'))"}},
             "y": {"field": "v", "type": "quantitative", "scale": {"domain": [-22.6, 42.6], "nice": false, "zero": false}, "axis": {"values": [0, 10, 20, 30, 40], "title": null, "labelAngle": 270}}
           }},
          {"data": {"name": "bk_o"}, "mark": {"type": "line", "color": "#ff4d00", "strokeWidth": 2, "clip": true},
           "encoding": {"x": {"field": "d", "type": "temporal"}, "y": {"field": "v", "type": "quantitative"}}}
        ]},
        {"layer": [
          {"data": {"values": [{}]}, "mark": {"type": "rule", "color": "#222", "strokeWidth": 1.2},
           "encoding": {"y": {"datum": 0, "type": "quantitative", "scale": {"domain": [-24.4, 95.5], "nice": false, "zero": false}, "axis": {"orient": "right", "values": [-10, 10], "title": "Premium (in percent)", "titleAngle": 270, "labelAngle": 270}}}},
          {"data": {"name": "bk_p"}, "mark": {"type": "line", "color": "#1a476f", "strokeWidth": 2, "clip": true},
           "encoding": {"x": {"field": "d", "type": "temporal"}, "y": {"field": "v", "type": "quantitative"}}}
        ]}
      ],
      "resolve": {"scale": {"y": "independent"}}
    },
    {
      "title": "Bahrain-London",
      "width": 360, "height": 283,
      "layer": [
        {"layer": [
          {"data": {"name": "bl_g"}, "mark": {"type": "line", "color": "#0a690a", "strokeWidth": 2, "clip": true},
           "encoding": {
             "x": {"field": "d", "type": "temporal", "title": "time", "scale": {"type": "utc", "domain": [{"year": 2007, "month": 6, "date": 8, "utc": true}, {"year": 2009, "month": 7, "date": 30, "utc": true}]}, "axis": {"values": [{"year": 2007, "month": 7, "date": 1, "utc": true}, {"year": 2008, "month": 1, "date": 1, "utc": true}, {"year": 2008, "month": 7, "date": 1, "utc": true}, {"year": 2009, "month": 1, "date": 1, "utc": true}, {"year": 2009, "month": 7, "date": 1, "utc": true}], "labelExpr": "lower(utcFormat(datum.value, '%d%b%Y'))"}},
             "y": {"field": "v", "type": "quantitative", "scale": {"domain": [-22.6, 42.6], "nice": false, "zero": false}, "axis": {"values": [0, 10, 20, 30, 40], "title": null, "labelAngle": 270}}
           }},
          {"data": {"name": "bl_o"}, "mark": {"type": "line", "color": "#ff4d00", "strokeWidth": 2, "clip": true},
           "encoding": {"x": {"field": "d", "type": "temporal"}, "y": {"field": "v", "type": "quantitative"}}}
        ]},
        {"layer": [
          {"data": {"values": [{}]}, "mark": {"type": "rule", "color": "#222", "strokeWidth": 1.2},
           "encoding": {"y": {"datum": 0, "type": "quantitative", "scale": {"domain": [-35.3, 96.4], "nice": false, "zero": false}, "axis": {"orient": "right", "values": [-10, 10], "title": "Premium (in percent)", "titleAngle": 270, "labelAngle": 270}}}},
          {"data": {"name": "bl_p"}, "mark": {"type": "line", "color": "#1a476f", "strokeWidth": 2, "clip": true},
           "encoding": {"x": {"field": "d", "type": "temporal"}, "y": {"field": "v", "type": "quantitative"}}}
        ]}
      ],
      "resolve": {"scale": {"y": "independent"}}
    },
    {
      "title": "Bahrain-Frankfurt",
      "width": 360, "height": 283,
      "layer": [
        {"layer": [
          {"data": {"name": "bf_g"}, "mark": {"type": "line", "color": "#0a690a", "strokeWidth": 2, "clip": true},
           "encoding": {
             "x": {"field": "d", "type": "temporal", "title": "time", "scale": {"type": "utc", "domain": [{"year": 2007, "month": 6, "date": 6, "utc": true}, {"year": 2009, "month": 8, "date": 1, "utc": true}]}, "axis": {"values": [{"year": 2007, "month": 7, "date": 1, "utc": true}, {"year": 2008, "month": 1, "date": 1, "utc": true}, {"year": 2008, "month": 7, "date": 1, "utc": true}, {"year": 2009, "month": 1, "date": 1, "utc": true}, {"year": 2009, "month": 7, "date": 1, "utc": true}], "labelExpr": "lower(utcFormat(datum.value, '%d%b%Y'))"}},
             "y": {"field": "v", "type": "quantitative", "scale": {"domain": [-22.6, 42.6], "nice": false, "zero": false}, "axis": {"values": [0, 10, 20, 30, 40], "title": null, "labelAngle": 270}}
           }},
          {"data": {"name": "bf_o"}, "mark": {"type": "line", "color": "#ff4d00", "strokeWidth": 2, "clip": true},
           "encoding": {"x": {"field": "d", "type": "temporal"}, "y": {"field": "v", "type": "quantitative"}}}
        ]},
        {"layer": [
          {"data": {"values": [{}]}, "mark": {"type": "rule", "color": "#222", "strokeWidth": 1.2},
           "encoding": {"y": {"datum": 0, "type": "quantitative", "scale": {"domain": [-35.4, 95.4], "nice": false, "zero": false}, "axis": {"orient": "right", "values": [-10, 10], "title": "Premium (in percent)", "titleAngle": 270, "labelAngle": 270}}}},
          {"data": {"name": "bf_p"}, "mark": {"type": "line", "color": "#1a476f", "strokeWidth": 2, "clip": true},
           "encoding": {"x": {"field": "d", "type": "temporal"}, "y": {"field": "v", "type": "quantitative"}}}
        ]}
      ],
      "resolve": {"scale": {"y": "independent"}}
    },
    {
      "title": "London-Frankfurt",
      "width": 360, "height": 283,
      "layer": [
        {"layer": [
          {"data": {"name": "lf_g"}, "mark": {"type": "line", "color": "#0a690a", "strokeWidth": 2, "clip": true},
           "encoding": {
             "x": {"field": "d", "type": "temporal", "title": "time", "scale": {"type": "utc", "domain": [{"year": 2007, "month": 6, "date": 8, "utc": true}, {"year": 2009, "month": 7, "date": 25, "utc": true}]}, "axis": {"values": [{"year": 2007, "month": 7, "date": 1, "utc": true}, {"year": 2008, "month": 1, "date": 1, "utc": true}, {"year": 2008, "month": 7, "date": 1, "utc": true}, {"year": 2009, "month": 1, "date": 1, "utc": true}, {"year": 2009, "month": 7, "date": 1, "utc": true}], "labelExpr": "lower(utcFormat(datum.value, '%d%b%Y'))"}},
             "y": {"field": "v", "type": "quantitative", "scale": {"domain": [-22.6, 42.6], "nice": false, "zero": false}, "axis": {"values": [0, 10, 20, 30, 40], "title": null, "labelAngle": 270}}
           }},
          {"data": {"name": "lf_o"}, "mark": {"type": "line", "color": "#ff4d00", "strokeWidth": 2, "clip": true},
           "encoding": {"x": {"field": "d", "type": "temporal"}, "y": {"field": "v", "type": "quantitative"}}}
        ]},
        {"layer": [
          {"data": {"values": [{}]}, "mark": {"type": "rule", "color": "#222", "strokeWidth": 1.2},
           "encoding": {"y": {"datum": 0, "type": "quantitative", "scale": {"domain": [-22.8, 94.4], "nice": false, "zero": false}, "axis": {"orient": "right", "values": [-10, 10], "title": "Premium (in percent)", "titleAngle": 270, "labelAngle": 270}}}},
          {"data": {"name": "lf_p"}, "mark": {"type": "line", "color": "#1a476f", "strokeWidth": 2, "clip": true},
           "encoding": {"x": {"field": "d", "type": "temporal"}, "y": {"field": "v", "type": "quantitative"}}}
        ]}
      ],
      "resolve": {"scale": {"y": "independent"}}
    }
  ]
}
